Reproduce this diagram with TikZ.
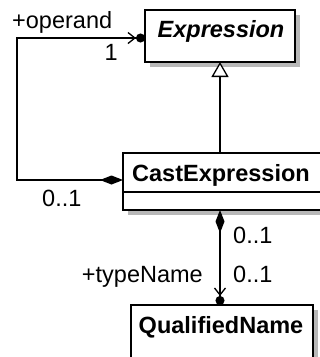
\documentclass[tikz,border=0pt]{standalone}
\usepackage{fontspec}
\setmainfont{Liberation Sans}
\usetikzlibrary{arrows.meta,shadows}
\newcommand\umlfont{\fontsize{23.5}{28}\selectfont}
\begin{document}
\begin{tikzpicture}[x=1pt,y=-1pt,
  box/.style={draw, line width=1.5pt, fill=white, anchor=north west, inner sep=0pt, outer sep=0pt,
    drop shadow={shadow xshift=5pt, shadow yshift=-5pt, fill=black!28, opacity=1}},
  lbl/.style={font=\umlfont, inner sep=0pt, anchor=base},
  conn/.style={line width=1.3pt},
  compoball/.style={arrows={{Diamond[length=23pt,width=9pt]}-{Straight Barb[length=7pt,width=11pt] Circle[length=9pt]}}}
]
\path[use as bounding box, fill=white] (0,0) rectangle (320,357);

% classes
\node[box, minimum width=150pt, minimum height=52pt] (expr) at (145,10) {};
\node[box, minimum width=198pt, minimum height=57pt] (cast) at (123,153) {};
\node[box, minimum width=182pt, minimum height=60pt] (qn) at (131,305) {};
\coordinate (castdiv) at (123,192);
\draw[line width=1.5pt] (castdiv) -- (castdiv -| cast.east);

\node[lbl, font=\umlfont\bfseries\itshape] (exprname) at (221,37) {Expression};
\node[lbl, font=\umlfont\bfseries] (castname) at (221,181.5) {CastExpression};
\node[lbl, font=\umlfont\bfseries] (qnname) at (221,333) {QualifiedName};

% generalization
\draw[conn, -{Triangle[open, fill=white, length=15pt, width=17pt]}]
  (expr.south |- cast.north) -- (expr.south);

% operand association
\coordinate (loopbl) at (17,180);
\coordinate (looptl) at (17,38);
\draw[conn, compoball]
  (cast.west |- loopbl) -- (loopbl) -- (looptl) -- (expr.west |- looptl);

% typeName association
\draw[conn, compoball]
  (expr.south |- cast.south) -- (expr.south |- qn.north);

% labels
\node[lbl, anchor=base west] (oprole) at (12,28) {+operand};
\node[lbl, anchor=base east] (opmult) at (118,60) {1};
\node[lbl, anchor=base west] (srcmult) at (42,206) {0..1};
\node[lbl, anchor=base west] (tnsrc) at (233,243) {0..1};
\node[lbl, anchor=base west] (tnmult) at (233,282) {0..1};
\node[lbl, anchor=base east] (tnrole) at (203,282) {+typeName};
\end{tikzpicture}
\end{document}
